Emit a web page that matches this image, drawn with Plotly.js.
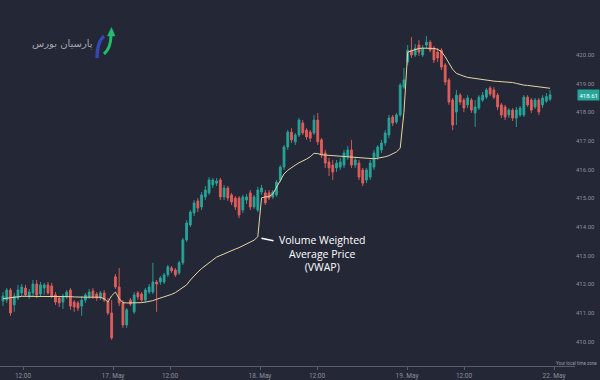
<!DOCTYPE html>
<html>
<head>
<meta charset="utf-8">
<script src="https://cdn.plot.ly/plotly-3.0.1.min.js"></script>
<style>html,body{margin:0;padding:0;background:#242736;}#chart{width:600px;height:380px;}</style>
</head>
<body>
<div id="chart"></div>
<script>
// ---- data ----
const openP = [
411.42,411.45,411.80,411.28,411.52,411.70,411.87,411.59,411.70,412.01,
411.66,411.87,411.98,411.94,411.63,411.52,411.38,411.56,411.80,411.38,
411.35,411.24,411.45,411.56,411.77,411.66,411.52,411.70,411.38,411.00,
412.26,411.91,411.35,410.58,411.45,411.04,411.70,411.66,411.45,411.73,
411.73,412.08,412.08,412.08,412.33,412.57,412.50,412.40,412.75,
413.55,414.07,414.49,414.91,414.70,415.05,415.19,415.47,415.53,415.64,
415.05,415.36,415.12,415.01,415.01,414.59,414.94,415.19,414.70,414.59,
415.22,415.19,415.19,415.05,415.12,415.64,416.09,416.79,417.31,416.97,
417.21,417.63,417.38,417.31,417.28,417.73,417.04,416.58,416.27,416.16,
416.06,416.09,416.16,416.44,416.69,416.16,416.23,415.99,415.64,415.74,
416.09,416.44,416.69,416.93,417.21,417.84,417.66,417.91,418.88,419.76,
420.17,420.00,420.35,420.00,420.35,420.45,420.24,420.10,420.17,419.65,
419.13,418.43,418.01,418.60,418.43,418.26,418.43,417.98,418.15,418.43,
418.53,418.85,418.78,418.60,418.26,418.19,417.91,418.08,417.80,417.91,
417.91,418.53,418.43,418.19,418.43,418.26,418.39,418.46];
const highP = [
411.73,411.87,411.87,411.70,411.98,412.01,411.98,411.84,412.15,412.15,
412.08,412.05,412.08,412.05,411.73,411.59,411.66,411.80,411.87,411.45,
411.42,411.59,411.70,411.84,411.87,411.73,411.77,411.80,411.52,411.45,
412.36,412.57,411.45,411.17,411.52,411.73,411.77,411.73,411.87,412.01,
412.75,412.15,412.29,412.40,412.68,412.64,412.57,412.82,413.62,
414.24,414.59,414.94,415.01,415.22,415.43,415.74,415.71,415.71,415.71,
415.47,415.43,415.19,415.08,415.08,415.12,415.15,415.29,415.12,415.40,
415.47,415.29,415.29,415.29,415.64,416.16,416.86,417.38,417.45,417.28,
417.80,417.73,417.45,417.38,417.91,417.98,417.10,416.69,416.41,416.34,
416.34,416.41,416.69,416.83,417.04,416.44,416.34,416.06,416.06,416.34,
416.69,416.86,417.04,417.38,417.91,417.91,417.98,419.02,419.55,420.35,
420.63,420.38,420.52,420.35,420.66,420.52,420.31,420.24,420.24,419.72,
419.20,418.50,418.78,418.67,418.50,418.60,418.50,418.43,418.60,418.71,
418.85,418.92,418.88,418.67,418.33,418.26,418.15,418.15,418.19,418.22,
418.60,418.60,418.50,418.50,418.50,418.60,418.67,418.78];
const lowP = [
411.24,411.35,410.90,411.04,411.45,411.59,411.56,411.49,411.59,411.52,
411.56,411.63,411.63,411.52,411.28,411.21,411.14,411.49,411.11,411.04,
411.07,410.90,411.35,411.49,411.49,411.42,411.45,411.38,410.93,410.06,
411.84,411.24,410.48,410.48,411.24,410.97,411.45,411.38,411.35,411.66,
411.66,411.04,411.98,412.01,412.26,412.40,412.26,412.33,412.68,
413.48,414.00,414.38,414.52,414.59,414.94,415.12,415.36,415.43,414.94,
414.94,414.91,414.77,414.59,414.31,414.49,414.80,414.59,414.63,414.52,
415.12,414.77,414.94,414.98,415.05,415.57,415.99,416.69,416.93,416.86,
417.14,417.21,417.04,416.97,417.21,416.86,416.41,416.06,415.78,415.64,
415.92,415.99,416.06,416.34,416.06,416.06,415.64,415.43,415.53,415.64,
415.99,416.34,416.58,416.83,417.10,417.52,417.59,417.84,418.81,419.65,
419.90,419.93,419.97,419.93,420.24,420.10,419.72,419.76,419.48,418.95,
418.26,417.38,417.56,418.26,418.01,418.15,417.98,417.49,418.08,418.36,
418.46,418.57,418.46,418.08,417.80,417.73,417.80,417.70,417.49,417.84,
417.84,418.19,417.98,418.12,417.91,418.15,418.33,418.39];
const closeP = [
411.59,411.80,411.00,411.59,411.80,411.91,411.63,411.73,412.01,411.63,
411.98,411.98,411.70,411.59,411.38,411.35,411.59,411.73,411.24,411.21,
411.17,411.45,411.63,411.73,411.56,411.52,411.70,411.45,411.00,410.13,
411.91,411.35,410.58,411.11,411.31,411.63,411.56,411.45,411.80,411.91,
412.08,412.01,412.22,412.33,412.61,412.47,412.33,412.75,413.55,
414.14,414.52,414.84,414.66,415.12,415.29,415.64,415.64,415.60,415.05,
415.36,415.01,414.87,414.70,414.42,415.05,415.05,414.70,415.05,415.29,
415.36,414.84,415.01,415.22,415.57,416.09,416.79,417.31,417.04,417.21,
417.73,417.28,417.14,417.10,417.73,416.97,416.51,416.23,416.06,415.92,
416.23,416.27,416.58,416.69,416.16,416.34,415.74,415.53,415.99,416.23,
416.58,416.79,416.93,417.28,417.80,417.63,417.91,418.95,419.13,420.17,
420.00,420.24,420.10,420.24,420.45,420.17,419.83,419.90,419.58,419.06,
418.36,417.56,418.60,418.36,418.15,418.50,418.08,418.19,418.53,418.60,
418.78,418.64,418.53,418.19,417.91,417.84,418.08,417.80,418.08,418.15,
418.53,418.26,418.08,418.43,418.01,418.50,418.55,418.61];
const vwap = [
411.50,411.52,411.54,411.56,411.57,411.58,411.58,411.58,411.58,411.58,
411.59,411.59,411.59,411.59,411.58,411.57,411.57,411.57,411.57,411.56,
411.55,411.55,411.55,411.55,411.55,411.55,411.55,411.50,411.38,411.60,
411.73,411.50,411.36,411.35,411.35,411.35,411.35,411.36,411.38,411.40,
411.43,411.48,411.52,411.56,411.60,411.65,411.71,411.80,411.89,
411.98,412.15,412.30,412.43,412.55,412.66,412.76,412.85,412.95,413.01,
413.07,413.12,413.18,413.23,413.28,413.34,413.40,413.46,413.54,413.66,
415.02,415.05,415.06,415.15,415.40,415.62,415.85,415.98,416.08,416.16,
416.24,416.30,416.37,416.45,416.57,416.56,416.52,416.51,416.50,416.50,
416.49,416.48,416.47,416.46,416.45,416.44,416.43,416.41,416.39,416.38,
416.38,416.40,416.42,416.45,416.49,416.55,416.62,416.75,418.00,420.10,
420.15,420.20,420.23,420.24,420.24,420.24,420.23,420.20,420.12,419.94,
419.70,419.50,419.36,419.30,419.26,419.22,419.20,419.18,419.16,419.14,
419.11,419.10,419.09,419.08,419.07,419.07,419.06,419.04,419.01,418.97,
418.95,418.94,418.92,418.91,418.89,418.88,418.86,418.84];
const tickPos = [5.34, 29.36, 44.57, 68.59, 83.80, 107.82, 123.03, 147.05];
const tickText = ["12:00", "17. May", "12:00", "18. May", "12:00", "19. May", "12:00", "22. May"];
const priceTicks = [410, 411, 412, 413, 414, 415, 416, 417, 418, 419, 420];
const lastPrice = closeP[closeP.length - 1];
const idx = closeP.map((_, i) => i);

const BG = '#242736';
const UP = '#26a69a';
const DOWN = '#e35f5b';
const GRAYTXT = '#8c909c';

const traces = [
  {
    type: 'candlestick', x: idx, open: openP, high: highP, low: lowP, close: closeP,
    increasing: {line: {color: UP, width: 0.9}, fillcolor: UP},
    decreasing: {line: {color: DOWN, width: 0.9}, fillcolor: DOWN},
    whiskerwidth: 0, hoverinfo: 'skip', showlegend: false
  },
  {
    type: 'scatter', mode: 'lines', x: idx, y: vwap,
    line: {color: '#e6d6a2', width: 1}, hoverinfo: 'skip', showlegend: false
  }
];

function px(x) { return x / 575; }
function py(y) { return (366 - y) / 366; }

const layout = {
  width: 600, height: 380,
  margin: {l: 0, r: 25, t: 0, b: 14},
  paper_bgcolor: BG, plot_bgcolor: BG,
  showlegend: false,
  font: {family: 'Roboto, sans-serif', color: GRAYTXT},
  xaxis: {
    range: [-0.8, 152.65], rangeslider: {visible: false},
    showgrid: false, zeroline: false,
    showline: true, linecolor: '#5a5e6c', linewidth: 1,
    ticks: 'outside', ticklen: 3, tickcolor: '#5a5e6c',
    tickvals: tickPos, ticktext: tickText,
    tickfont: {size: 6.5, color: GRAYTXT}, fixedrange: true
  },
  yaxis: {
    range: [409.15, 421.92], side: 'right',
    showgrid: false, zeroline: false, showline: false,
    tickvals: priceTicks, tickformat: '.2f', ticks: '',
    tickfont: {size: 6, color: GRAYTXT}, fixedrange: true
  },
  annotations: [
    {xref: 'paper', yref: 'paper', x: px(322), y: py(253), text: 'Volume Weighted<br>Average Price<br>(VWAP)', showarrow: false,
      xanchor: 'center', yanchor: 'middle', align: 'center',
      font: {family: 'Open Sans, sans-serif', size: 10.5, color: '#ffffff'}},
    {xref: 'paper', yref: 'y', x: 1.003, y: lastPrice, text: lastPrice.toFixed(2), showarrow: false, xanchor: 'left', yanchor: 'middle',
      bgcolor: UP, borderpad: 1.5, font: {size: 6, color: '#ffffff'}},
    {xref: 'paper', yref: 'paper', x: px(576), y: py(363.5), text: 'Your local time zone', showarrow: false, xanchor: 'center', yanchor: 'middle',
      font: {size: 4.5, color: '#9a9eaa'}},
    {xref: 'paper', yref: 'paper', x: px(62), y: py(44), text: 'پارسیان بورس', showarrow: false, xanchor: 'center', yanchor: 'middle',
      font: {family: 'DejaVu Sans, sans-serif', size: 10, color: '#a3a6b0'}}
  ],
  shapes: [
    {type: 'line', xref: 'paper', yref: 'paper', x0: px(261.5), y0: py(238.3), x1: px(273.5), y1: py(240.8), line: {color: '#ffffff', width: 1.5}},
    {type: 'path', xref: 'paper', yref: 'paper',
      path: `M ${px(97)} ${py(58)} Q ${px(97)} ${py(42)} ${px(104)} ${py(36)}`,
      line: {color: '#3447b3', width: 3.5}},
    {type: 'path', xref: 'paper', yref: 'paper',
      path: `M ${px(104)} ${py(54)} Q ${px(111)} ${py(48)} ${px(111)} ${py(35)}`,
      line: {color: '#1fbf6e', width: 3}},
    {type: 'path', xref: 'paper', yref: 'paper',
      path: `M ${px(107.5)} ${py(36)} L ${px(111.5)} ${py(27.5)} L ${px(115)} ${py(36)} Z`,
      fillcolor: '#1fbf6e', line: {color: '#1fbf6e', width: 0.5}}
  ]
};

Plotly.newPlot('chart', traces, layout, {displayModeBar: false, staticPlot: true});
</script>
</body>
</html>
